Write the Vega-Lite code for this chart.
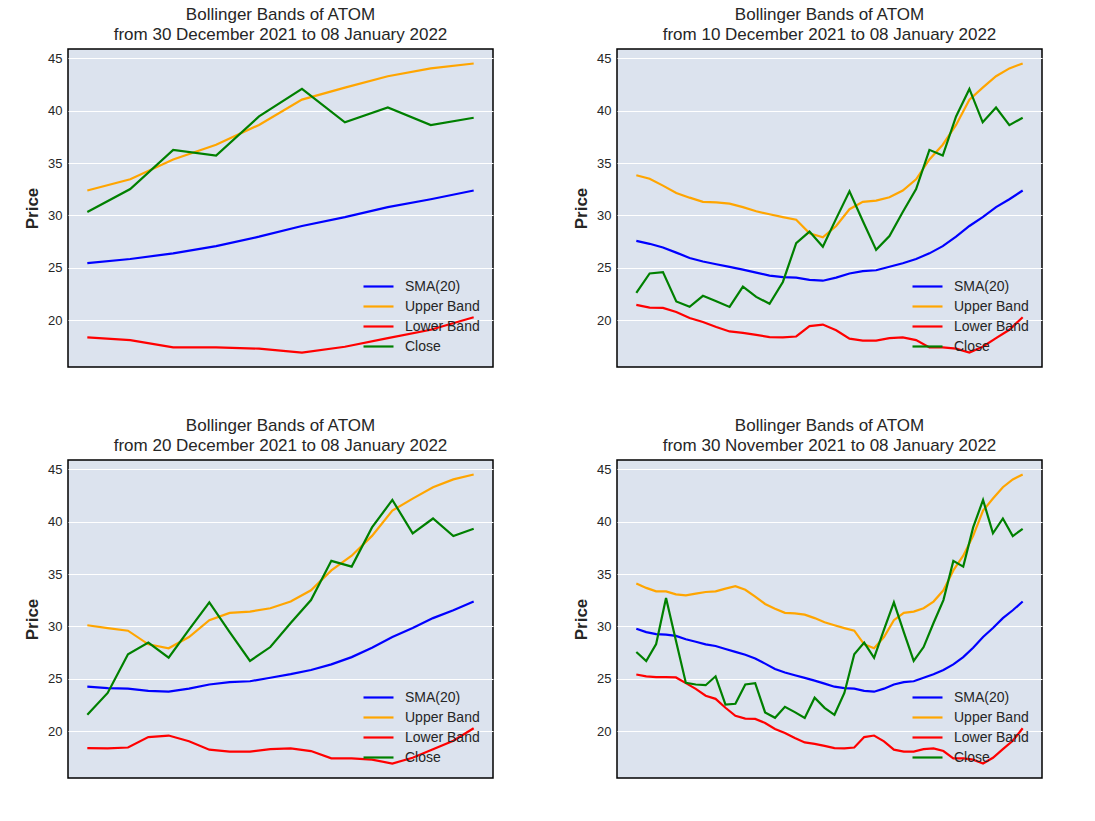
{
  "$schema": "https://vega.github.io/schema/vega-lite/v6.json",
  "background": "white",
  "padding": {"left": 22, "top": 5, "right": 10, "bottom": 10},
  "config": {
    "font": "Liberation Sans",
    "view": {"fill": "#dce3ee", "stroke": "black", "strokeWidth": 1.5},
    "title": {"fontSize": 17, "fontWeight": "normal", "color": "#262626", "anchor": "middle", "frame": "group", "offset": 5, "lineHeight": 20},
    "axisY": {"labelFontSize": 13, "labelColor": "#262626", "titleFontSize": 17, "titleFontWeight": "bold", "titleColor": "#262626", "domain": false, "ticks": false, "gridColor": "white", "gridWidth": 1, "labelPadding": 6, "titlePadding": 6},
    "legend": {"orient": "bottom-right", "offset": 13, "labelFontSize": 14, "labelColor": "#262626", "symbolType": "M-1.5,0H1.5", "symbolSize": 400, "symbolStrokeWidth": 2.5, "rowPadding": 1, "labelOffset": 15},
    "line": {"strokeWidth": 2.2}
  },
  "datasets": {
    "atom": [
      {"date": "2021-11-30", "series": "SMA(20)", "price": 29.78},
      {"date": "2021-12-01", "series": "SMA(20)", "price": 29.46},
      {"date": "2021-12-02", "series": "SMA(20)", "price": 29.27},
      {"date": "2021-12-03", "series": "SMA(20)", "price": 29.23},
      {"date": "2021-12-04", "series": "SMA(20)", "price": 29.1},
      {"date": "2021-12-05", "series": "SMA(20)", "price": 28.78},
      {"date": "2021-12-06", "series": "SMA(20)", "price": 28.55},
      {"date": "2021-12-07", "series": "SMA(20)", "price": 28.29},
      {"date": "2021-12-08", "series": "SMA(20)", "price": 28.14},
      {"date": "2021-12-09", "series": "SMA(20)", "price": 27.85},
      {"date": "2021-12-10", "series": "SMA(20)", "price": 27.58},
      {"date": "2021-12-11", "series": "SMA(20)", "price": 27.3},
      {"date": "2021-12-12", "series": "SMA(20)", "price": 26.95},
      {"date": "2021-12-13", "series": "SMA(20)", "price": 26.46},
      {"date": "2021-12-14", "series": "SMA(20)", "price": 25.95},
      {"date": "2021-12-15", "series": "SMA(20)", "price": 25.61},
      {"date": "2021-12-16", "series": "SMA(20)", "price": 25.35},
      {"date": "2021-12-17", "series": "SMA(20)", "price": 25.1},
      {"date": "2021-12-18", "series": "SMA(20)", "price": 24.84},
      {"date": "2021-12-19", "series": "SMA(20)", "price": 24.55},
      {"date": "2021-12-20", "series": "SMA(20)", "price": 24.26},
      {"date": "2021-12-21", "series": "SMA(20)", "price": 24.12},
      {"date": "2021-12-22", "series": "SMA(20)", "price": 24.07},
      {"date": "2021-12-23", "series": "SMA(20)", "price": 23.86},
      {"date": "2021-12-24", "series": "SMA(20)", "price": 23.78},
      {"date": "2021-12-25", "series": "SMA(20)", "price": 24.07},
      {"date": "2021-12-26", "series": "SMA(20)", "price": 24.47},
      {"date": "2021-12-27", "series": "SMA(20)", "price": 24.69},
      {"date": "2021-12-28", "series": "SMA(20)", "price": 24.78},
      {"date": "2021-12-29", "series": "SMA(20)", "price": 25.11},
      {"date": "2021-12-30", "series": "SMA(20)", "price": 25.45},
      {"date": "2021-12-31", "series": "SMA(20)", "price": 25.85},
      {"date": "2022-01-01", "series": "SMA(20)", "price": 26.39},
      {"date": "2022-01-02", "series": "SMA(20)", "price": 27.08},
      {"date": "2022-01-03", "series": "SMA(20)", "price": 27.98},
      {"date": "2022-01-04", "series": "SMA(20)", "price": 29.0},
      {"date": "2022-01-05", "series": "SMA(20)", "price": 29.85},
      {"date": "2022-01-06", "series": "SMA(20)", "price": 30.8},
      {"date": "2022-01-07", "series": "SMA(20)", "price": 31.55},
      {"date": "2022-01-08", "series": "SMA(20)", "price": 32.38},
      {"date": "2021-11-30", "series": "Upper Band", "price": 34.1},
      {"date": "2021-12-01", "series": "Upper Band", "price": 33.68},
      {"date": "2021-12-02", "series": "Upper Band", "price": 33.35},
      {"date": "2021-12-03", "series": "Upper Band", "price": 33.35},
      {"date": "2021-12-04", "series": "Upper Band", "price": 33.06},
      {"date": "2021-12-05", "series": "Upper Band", "price": 32.97},
      {"date": "2021-12-06", "series": "Upper Band", "price": 33.13},
      {"date": "2021-12-07", "series": "Upper Band", "price": 33.29},
      {"date": "2021-12-08", "series": "Upper Band", "price": 33.35},
      {"date": "2021-12-09", "series": "Upper Band", "price": 33.61},
      {"date": "2021-12-10", "series": "Upper Band", "price": 33.84},
      {"date": "2021-12-11", "series": "Upper Band", "price": 33.5},
      {"date": "2021-12-12", "series": "Upper Band", "price": 32.85},
      {"date": "2021-12-13", "series": "Upper Band", "price": 32.15},
      {"date": "2021-12-14", "series": "Upper Band", "price": 31.7},
      {"date": "2021-12-15", "series": "Upper Band", "price": 31.3},
      {"date": "2021-12-16", "series": "Upper Band", "price": 31.25},
      {"date": "2021-12-17", "series": "Upper Band", "price": 31.13},
      {"date": "2021-12-18", "series": "Upper Band", "price": 30.8},
      {"date": "2021-12-19", "series": "Upper Band", "price": 30.4},
      {"date": "2021-12-20", "series": "Upper Band", "price": 30.12},
      {"date": "2021-12-21", "series": "Upper Band", "price": 29.85},
      {"date": "2021-12-22", "series": "Upper Band", "price": 29.6},
      {"date": "2021-12-23", "series": "Upper Band", "price": 28.3},
      {"date": "2021-12-24", "series": "Upper Band", "price": 27.92},
      {"date": "2021-12-25", "series": "Upper Band", "price": 29.0},
      {"date": "2021-12-26", "series": "Upper Band", "price": 30.6},
      {"date": "2021-12-27", "series": "Upper Band", "price": 31.3},
      {"date": "2021-12-28", "series": "Upper Band", "price": 31.42},
      {"date": "2021-12-29", "series": "Upper Band", "price": 31.74},
      {"date": "2021-12-30", "series": "Upper Band", "price": 32.38},
      {"date": "2021-12-31", "series": "Upper Band", "price": 33.45},
      {"date": "2022-01-01", "series": "Upper Band", "price": 35.35},
      {"date": "2022-01-02", "series": "Upper Band", "price": 36.75},
      {"date": "2022-01-03", "series": "Upper Band", "price": 38.64},
      {"date": "2022-01-04", "series": "Upper Band", "price": 41.05},
      {"date": "2022-01-05", "series": "Upper Band", "price": 42.2},
      {"date": "2022-01-06", "series": "Upper Band", "price": 43.28},
      {"date": "2022-01-07", "series": "Upper Band", "price": 44.03},
      {"date": "2022-01-08", "series": "Upper Band", "price": 44.5},
      {"date": "2021-11-30", "series": "Lower Band", "price": 25.42},
      {"date": "2021-12-01", "series": "Lower Band", "price": 25.24},
      {"date": "2021-12-02", "series": "Lower Band", "price": 25.18},
      {"date": "2021-12-03", "series": "Lower Band", "price": 25.18},
      {"date": "2021-12-04", "series": "Lower Band", "price": 25.14},
      {"date": "2021-12-05", "series": "Lower Band", "price": 24.6},
      {"date": "2021-12-06", "series": "Lower Band", "price": 24.05},
      {"date": "2021-12-07", "series": "Lower Band", "price": 23.4},
      {"date": "2021-12-08", "series": "Lower Band", "price": 23.1},
      {"date": "2021-12-09", "series": "Lower Band", "price": 22.25},
      {"date": "2021-12-10", "series": "Lower Band", "price": 21.48},
      {"date": "2021-12-11", "series": "Lower Band", "price": 21.22},
      {"date": "2021-12-12", "series": "Lower Band", "price": 21.19},
      {"date": "2021-12-13", "series": "Lower Band", "price": 20.8},
      {"date": "2021-12-14", "series": "Lower Band", "price": 20.22},
      {"date": "2021-12-15", "series": "Lower Band", "price": 19.84},
      {"date": "2021-12-16", "series": "Lower Band", "price": 19.36},
      {"date": "2021-12-17", "series": "Lower Band", "price": 18.94},
      {"date": "2021-12-18", "series": "Lower Band", "price": 18.81},
      {"date": "2021-12-19", "series": "Lower Band", "price": 18.62},
      {"date": "2021-12-20", "series": "Lower Band", "price": 18.4},
      {"date": "2021-12-21", "series": "Lower Band", "price": 18.38},
      {"date": "2021-12-22", "series": "Lower Band", "price": 18.46},
      {"date": "2021-12-23", "series": "Lower Band", "price": 19.45},
      {"date": "2021-12-24", "series": "Lower Band", "price": 19.6},
      {"date": "2021-12-25", "series": "Lower Band", "price": 19.05},
      {"date": "2021-12-26", "series": "Lower Band", "price": 18.25},
      {"date": "2021-12-27", "series": "Lower Band", "price": 18.07},
      {"date": "2021-12-28", "series": "Lower Band", "price": 18.07},
      {"date": "2021-12-29", "series": "Lower Band", "price": 18.3},
      {"date": "2021-12-30", "series": "Lower Band", "price": 18.38},
      {"date": "2021-12-31", "series": "Lower Band", "price": 18.12},
      {"date": "2022-01-01", "series": "Lower Band", "price": 17.42},
      {"date": "2022-01-02", "series": "Lower Band", "price": 17.42},
      {"date": "2022-01-03", "series": "Lower Band", "price": 17.3},
      {"date": "2022-01-04", "series": "Lower Band", "price": 16.93},
      {"date": "2022-01-05", "series": "Lower Band", "price": 17.48},
      {"date": "2022-01-06", "series": "Lower Band", "price": 18.3},
      {"date": "2022-01-07", "series": "Lower Band", "price": 19.1},
      {"date": "2022-01-08", "series": "Lower Band", "price": 20.3},
      {"date": "2021-11-30", "series": "Close", "price": 27.57},
      {"date": "2021-12-01", "series": "Close", "price": 26.7},
      {"date": "2021-12-02", "series": "Close", "price": 28.33},
      {"date": "2021-12-03", "series": "Close", "price": 32.71},
      {"date": "2021-12-04", "series": "Close", "price": 28.65},
      {"date": "2021-12-05", "series": "Close", "price": 24.62},
      {"date": "2021-12-06", "series": "Close", "price": 24.47},
      {"date": "2021-12-07", "series": "Close", "price": 24.4},
      {"date": "2021-12-08", "series": "Close", "price": 25.25},
      {"date": "2021-12-09", "series": "Close", "price": 22.55},
      {"date": "2021-12-10", "series": "Close", "price": 22.63},
      {"date": "2021-12-11", "series": "Close", "price": 24.47},
      {"date": "2021-12-12", "series": "Close", "price": 24.6},
      {"date": "2021-12-13", "series": "Close", "price": 21.8},
      {"date": "2021-12-14", "series": "Close", "price": 21.29},
      {"date": "2021-12-15", "series": "Close", "price": 22.34},
      {"date": "2021-12-16", "series": "Close", "price": 21.83},
      {"date": "2021-12-17", "series": "Close", "price": 21.28},
      {"date": "2021-12-18", "series": "Close", "price": 23.21},
      {"date": "2021-12-19", "series": "Close", "price": 22.24},
      {"date": "2021-12-20", "series": "Close", "price": 21.58},
      {"date": "2021-12-21", "series": "Close", "price": 23.66},
      {"date": "2021-12-22", "series": "Close", "price": 27.36},
      {"date": "2021-12-23", "series": "Close", "price": 28.46},
      {"date": "2021-12-24", "series": "Close", "price": 27.02},
      {"date": "2021-12-25", "series": "Close", "price": 29.7},
      {"date": "2021-12-26", "series": "Close", "price": 32.3},
      {"date": "2021-12-27", "series": "Close", "price": 29.47},
      {"date": "2021-12-28", "series": "Close", "price": 26.72},
      {"date": "2021-12-29", "series": "Close", "price": 28.04},
      {"date": "2021-12-30", "series": "Close", "price": 30.33},
      {"date": "2021-12-31", "series": "Close", "price": 32.52},
      {"date": "2022-01-01", "series": "Close", "price": 36.26},
      {"date": "2022-01-02", "series": "Close", "price": 35.71},
      {"date": "2022-01-03", "series": "Close", "price": 39.45},
      {"date": "2022-01-04", "series": "Close", "price": 42.07},
      {"date": "2022-01-05", "series": "Close", "price": 38.89},
      {"date": "2022-01-06", "series": "Close", "price": 40.3},
      {"date": "2022-01-07", "series": "Close", "price": 38.62},
      {"date": "2022-01-08", "series": "Close", "price": 39.32}
    ]
  },
  "spacing": 48,
  "resolve": {"scale": {"color": "independent", "x": "independent"}, "legend": {"color": "independent"}},
  "vconcat": [
    {
      "spacing": 77,
      "resolve": {"scale": {"color": "independent", "x": "independent"}, "legend": {"color": "independent"}},
      "hconcat": [
        {
          "width": 425, "height": 318,
          "title": {"text": ["Bollinger Bands of ATOM", "from 30 December 2021 to 08 January 2022"]},
          "data": {"name": "atom"},
          "transform": [{"filter": "toDate(datum.date) >= utc(2021, 11, 30)"}],
          "mark": {"type": "line"},
          "encoding": {
            "x": {"field": "date", "type": "temporal", "axis": null,
              "scale": {"nice": false, "domain": [{"year": 2021, "month": 12, "date": 29, "hours": 13, "minutes": 12, "utc": true}, {"year": 2022, "month": 1, "date": 8, "hours": 10, "minutes": 48, "utc": true}]}},
            "y": {"field": "price", "type": "quantitative", "title": "Price",
              "scale": {"domain": [15.55, 45.88], "nice": false, "zero": false},
              "axis": {"values": [20, 25, 30, 35, 40, 45]}},
            "color": {"field": "series", "type": "nominal", "title": null,
              "scale": {"domain": ["SMA(20)", "Upper Band", "Lower Band", "Close"], "range": ["#0000ff", "#ffa500", "#ff0000", "#008000"]}}
          }
        },
        {
          "width": 425, "height": 318,
          "title": {"text": ["Bollinger Bands of ATOM", "from 10 December 2021 to 08 January 2022"]},
          "data": {"name": "atom"},
          "transform": [{"filter": "toDate(datum.date) >= utc(2021, 11, 10)"}],
          "mark": {"type": "line"},
          "encoding": {
            "x": {"field": "date", "type": "temporal", "axis": null,
              "scale": {"nice": false, "domain": [{"year": 2021, "month": 12, "date": 8, "hours": 13, "minutes": 12, "utc": true}, {"year": 2022, "month": 1, "date": 9, "hours": 10, "minutes": 48, "utc": true}]}},
            "y": {"field": "price", "type": "quantitative", "title": "Price",
              "scale": {"domain": [15.55, 45.88], "nice": false, "zero": false},
              "axis": {"values": [20, 25, 30, 35, 40, 45]}},
            "color": {"field": "series", "type": "nominal", "title": null,
              "scale": {"domain": ["SMA(20)", "Upper Band", "Lower Band", "Close"], "range": ["#0000ff", "#ffa500", "#ff0000", "#008000"]}}
          }
        }
      ]
    },
    {
      "spacing": 77,
      "resolve": {"scale": {"color": "independent", "x": "independent"}, "legend": {"color": "independent"}},
      "hconcat": [
        {
          "width": 425, "height": 318,
          "title": {"text": ["Bollinger Bands of ATOM", "from 20 December 2021 to 08 January 2022"]},
          "data": {"name": "atom"},
          "transform": [{"filter": "toDate(datum.date) >= utc(2021, 11, 20)"}],
          "mark": {"type": "line"},
          "encoding": {
            "x": {"field": "date", "type": "temporal", "axis": null,
              "scale": {"nice": false, "domain": [{"year": 2021, "month": 12, "date": 19, "hours": 1, "minutes": 12, "utc": true}, {"year": 2022, "month": 1, "date": 8, "hours": 22, "minutes": 48, "utc": true}]}},
            "y": {"field": "price", "type": "quantitative", "title": "Price",
              "scale": {"domain": [15.55, 45.88], "nice": false, "zero": false},
              "axis": {"values": [20, 25, 30, 35, 40, 45]}},
            "color": {"field": "series", "type": "nominal", "title": null,
              "scale": {"domain": ["SMA(20)", "Upper Band", "Lower Band", "Close"], "range": ["#0000ff", "#ffa500", "#ff0000", "#008000"]}}
          }
        },
        {
          "width": 425, "height": 318,
          "title": {"text": ["Bollinger Bands of ATOM", "from 30 November 2021 to 08 January 2022"]},
          "data": {"name": "atom"},
          "mark": {"type": "line"},
          "encoding": {
            "x": {"field": "date", "type": "temporal", "axis": null,
              "scale": {"nice": false, "domain": [{"year": 2021, "month": 11, "date": 28, "hours": 1, "minutes": 12, "utc": true}, {"year": 2022, "month": 1, "date": 9, "hours": 22, "minutes": 48, "utc": true}]}},
            "y": {"field": "price", "type": "quantitative", "title": "Price",
              "scale": {"domain": [15.55, 45.88], "nice": false, "zero": false},
              "axis": {"values": [20, 25, 30, 35, 40, 45]}},
            "color": {"field": "series", "type": "nominal", "title": null,
              "scale": {"domain": ["SMA(20)", "Upper Band", "Lower Band", "Close"], "range": ["#0000ff", "#ffa500", "#ff0000", "#008000"]}}
          }
        }
      ]
    }
  ]
}
